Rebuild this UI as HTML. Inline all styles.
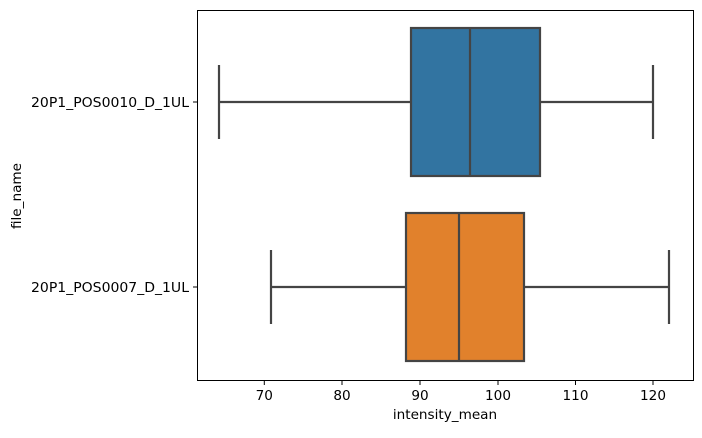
<!DOCTYPE html>
<html><head><style>body{margin:0;background:#fff}</style></head><body>
<svg width="702" height="433" xmlns="http://www.w3.org/2000/svg" font-family="DejaVu Sans, Liberation Sans, sans-serif" font-size="13.6">
<rect width="702" height="433" fill="#fff"/>
<g stroke="#444" stroke-width="2.2" fill="none">
<line x1="219" y1="102" x2="411" y2="102"/><line x1="540" y1="102" x2="653" y2="102"/>
<line x1="219" y1="65" x2="219" y2="139"/><line x1="653" y1="65" x2="653" y2="139"/>
<rect x="411" y="28" width="129" height="148" fill="#3274a1"/>
<line x1="470" y1="28" x2="470" y2="176"/>
<line x1="271" y1="287" x2="406" y2="287"/><line x1="524" y1="287" x2="669" y2="287"/>
<line x1="271" y1="250" x2="271" y2="324"/><line x1="669" y1="250" x2="669" y2="324"/>
<rect x="406" y="213" width="118" height="148" fill="#e1812c"/>
<line x1="459" y1="213" x2="459" y2="361"/>
</g>
<rect x="197.5" y="10.5" width="496" height="370" fill="none" stroke="#000" stroke-width="1"/>
<g stroke="#000"><line x1="193" y1="102" x2="197" y2="102"/><line x1="193" y1="287" x2="197" y2="287"/>
<line x1="264.3" y1="381" x2="264.3" y2="385"/><line x1="342" y1="381" x2="342" y2="385"/><line x1="420" y1="381" x2="420" y2="385"/><line x1="498" y1="381" x2="498" y2="385"/><line x1="575.5" y1="381" x2="575.5" y2="385"/><line x1="653" y1="381" x2="653" y2="385"/></g>
<g text-anchor="middle" fill="#000">
<text x="264.3" y="400">70</text><text x="342" y="400">80</text><text x="420" y="400">90</text><text x="498" y="400">100</text><text x="575.5" y="400">110</text><text x="653" y="400">120</text>
<text x="445" y="419">intensity_mean</text>
<text transform="translate(21,196) rotate(-90)">file_name</text>
</g>
<g fill="#000"><text x="31" y="107" textLength="158" lengthAdjust="spacingAndGlyphs">20P1_POS0010_D_1UL</text><text x="31" y="292" textLength="158" lengthAdjust="spacingAndGlyphs">20P1_POS0007_D_1UL</text></g>
</svg>
</body></html>
